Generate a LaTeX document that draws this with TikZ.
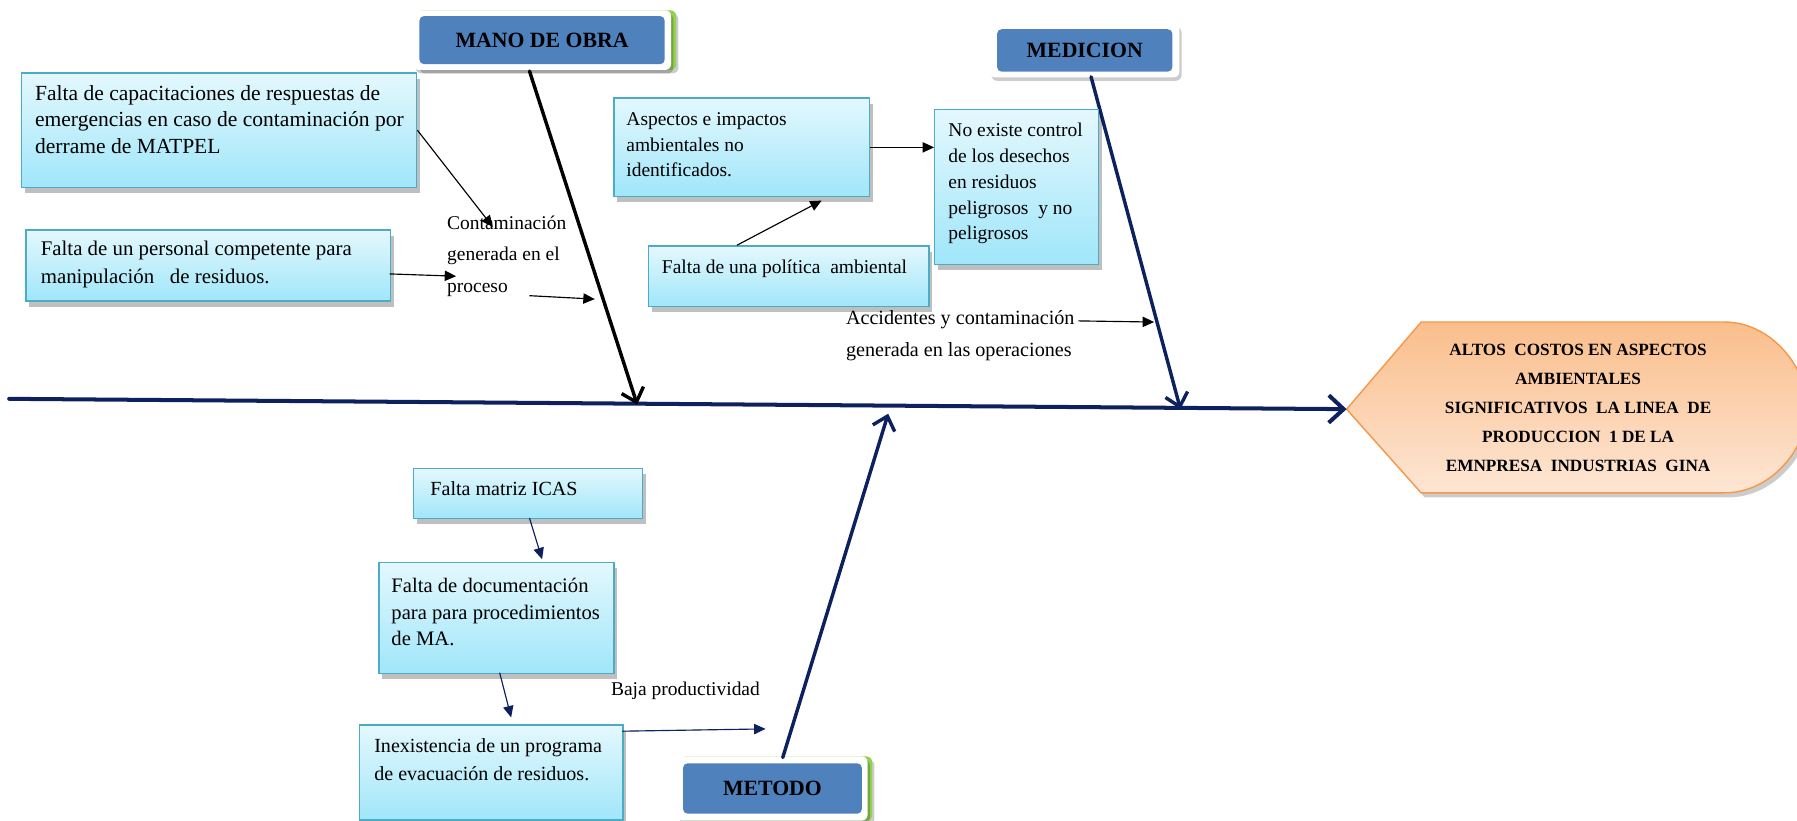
\documentclass[tikz,border=0pt]{standalone}
\usepackage{fontspec}
\setmainfont{Liberation Serif}
\usetikzlibrary{arrows.meta,shadows,calc}
\definecolor{navy}{RGB}{13,33,94}
\definecolor{cyantop}{RGB}{228,248,253}
\definecolor{cyanbot}{RGB}{160,230,250}
\definecolor{cyanline}{RGB}{75,172,198}
\definecolor{titleblue}{RGB}{79,129,189}
\definecolor{rimgreen}{RGB}{146,208,80}
\definecolor{efftop}{RGB}{250,190,140}
\definecolor{effbot}{RGB}{253,230,212}
\definecolor{effline}{RGB}{247,150,70}
\newcommand{\fsz}[2]{\fontsize{#1}{#2}\selectfont}
\newcommand{\bxt}[3]{\parbox[c][#2pt][t]{#1pt}{\raggedright\hfuzz=200pt #3}}
\begin{document}
\begin{tikzpicture}[x=1pt,y=-1pt,
  cbox/.style={draw=cyanline, line width=1.2pt, top color=cyantop, bottom color=cyanbot,
    anchor=north west, drop shadow={shadow xshift=3pt, shadow yshift=-5pt, fill=black, opacity=0.25}},
  tframe/.style={fill=white, rounded corners=5pt, minimum width=225pt, minimum height=52pt,
    drop shadow={shadow xshift=2pt, shadow yshift=-3pt, fill=black, opacity=0.2}},
  tblue/.style={fill=titleblue, rounded corners=4pt, minimum width=214pt, minimum height=42pt,
    font=\fsz{19}{23}\bfseries, text=black},
  lab/.style={anchor=north west, inner sep=0pt, align=left, font=\fsz{17}{27.5}},
  spine/.style={draw=navy, line width=3.5pt, line cap=round, -{Straight Barb[length=13pt,width=24pt,line width=3.5pt]}},
  bone/.style={line width=3pt, line cap=round, -{Straight Barb[length=11pt,width=20pt,line width=3pt]}},
  sarr/.style={line width=1pt, -{Triangle[length=10pt,width=9pt]}}
]
\useasboundingbox (0,0) rectangle (1568,716);

% ---------- effect ----------
\coordinate (efftip) at (1175,357);
\path[draw=effline, line width=1.2pt, top color=efftop, bottom color=effbot,
  drop shadow={shadow xshift=3pt, shadow yshift=-4pt, fill=black, opacity=0.2}]
  (efftip) -- (1240,281) -- (1505,281)
  .. controls (1545,281) and (1577,320) .. (1577,356)
  .. controls (1577,392) and (1545,430) .. (1505,430)
  -- (1240,430) -- cycle;
\node[align=center, font=\fsz{15}{25.3}\bfseries, inner sep=0pt] (eff) at (1377,356)
  {ALTOS\ \ COSTOS EN ASPECTOS\\ AMBIENTALES\\ SIGNIFICATIVOS\ \ LA LINEA\ \ DE\\
   PRODUCCION\ \ 1 DE LA\\ EMNPRESA\ \ INDUSTRIAS\ \ GINA};

% ---------- spine ----------
\coordinate (sp0) at (8,348);
\draw[spine] (sp0) -- (efftip);

% ---------- title boxes ----------
\node[tframe, fill=rimgreen, minimum width=226pt] (manoG) at (477,35) {};
\node[tframe] (manoF) at (473,35) {};
\node[tblue] (mano) at (473,35) {MANO DE OBRA};

\node[tframe, minimum width=166pt, minimum height=47pt] (medF) at (946,44) {};
\node[tblue, minimum width=153pt, minimum height=37pt] (med) at (946.5,44) {MEDICION};

\node[tframe, fill=rimgreen, minimum width=168pt, minimum height=56pt] (metG) at (677,688) {};
\node[tframe, minimum width=166pt, minimum height=56pt] (metF) at (674,688) {};
\node[tblue, minimum width=156pt, minimum height=44pt] (met) at (674,688) {METODO};

% ---------- bones ----------
\coordinate (manoS) at (462,62);
\coordinate (manoE) at (556,353);
\coordinate (medS) at (952,67);
\coordinate (medE) at (1030,357);
\coordinate (metS) at (683,661);
\coordinate (metE) at (775,361);
\draw[bone, draw=black] (manoS) -- (manoE);
\draw[bone, draw=navy] (medS) -- (medE);
\draw[bone, draw=navy] (metS) -- (metE);

% ---------- cause boxes ----------
\node[cbox, inner xsep=12pt, inner ysep=11pt, font=\fsz{18.8}{23}] (b1) at (18,63)
  {\bxt{321}{78}{\mbox{Falta de capacitaciones de respuestas de}\\ \mbox{emergencias en caso de contaminación por}\\ \mbox{derrame de MATPEL}}};
\node[cbox, inner xsep=13pt, inner ysep=10pt, font=\fsz{18.2}{24}] (b2) at (22,200)
  {\bxt{292}{42}{Falta de un personal competente para\\ manipulación\ \ \ de residuos.}};
\node[cbox, inner xsep=11pt, inner ysep=13pt, font=\fsz{17}{22}] (b3) at (535,85)
  {\bxt{201}{60}{Aspectos e impactos\\ ambientales\ no\\ identificados.}};
\node[cbox, inner xsep=12pt, inner ysep=12pt, font=\fsz{17}{22}] (b4) at (565,214)
  {\bxt{221}{29}{Falta de una política\ \ ambiental}};
\node[cbox, inner xsep=12pt, inner ysep=12pt, font=\fsz{17}{22.5}] (b5) at (815,95)
  {\bxt{119}{111}{\mbox{No existe control}\\ de los desechos\\ en residuos\\ \mbox{peligrosos\ \ y no}\\ peligrosos}};
\node[cbox, inner xsep=15pt, inner ysep=12pt, font=\fsz{17.5}{23}] (b6) at (360,408)
  {\bxt{170}{20}{Falta matriz ICAS}};
\node[cbox, inner xsep=11pt, inner ysep=14pt, font=\fsz{18}{23}] (b7) at (330,490)
  {\bxt{183}{69}{Falta de documentación\\ \mbox{para para procedimientos}\\ de MA.}};
\node[cbox, inner xsep=13pt, inner ysep=12pt, font=\fsz{17.5}{24}] (b8) at (313,632)
  {\bxt{204}{59}{\mbox{Inexistencia\ de un programa}\\ \mbox{de evacuación de residuos.}}};

% ---------- labels ----------
\node[lab] (lab1) at (390,188) {Contaminación\\ generada en el\\ proceso};
\node[lab, font=\fsz{17.6}{27.5}] (lab2) at (738,271) {Accidentes y contaminación\\ generada en las operaciones};
\node[lab] (lab3) at (533,595) {Baja productividad};

% ---------- small arrows ----------
\coordinate (a1e) at (430,198);
\coordinate (a2s) at (340,239);
\coordinate (a2e) at (398,241);
\coordinate (a3s) at (462,258);
\coordinate (a3e) at (519,261);
\coordinate (a5s) at (643,214);
\coordinate (a5e) at (717,175);
\coordinate (a6s) at (941,280);
\coordinate (a6e) at (1007,281);
\coordinate (a7s) at (462,452);
\coordinate (a7e) at (473,488);
\coordinate (a8s) at (436,587);
\coordinate (a8e) at (446,626);
\coordinate (a9s) at (543,638);
\coordinate (a9e) at (668,636);
\draw[sarr] (b1.east) -- (a1e);
\draw[sarr] (a2s) -- (a2e);
\draw[sarr] (a3s) -- (a3e);
\draw[sarr] (b3.east) -- (b3.east -| b5.west);
\draw[sarr] (a5s) -- (a5e);
\draw[sarr] (a6s) -- (a6e);
\draw[sarr, draw=navy, fill=navy] (a7s) -- (a7e);
\draw[sarr, draw=navy, fill=navy] (a8s) -- (a8e);
\draw[sarr, draw=navy, fill=navy] (a9s) -- (a9e);
\end{tikzpicture}
\end{document}
